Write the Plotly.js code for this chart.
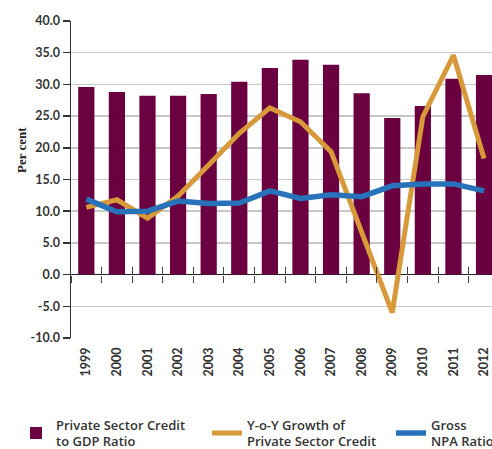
<!DOCTYPE html>
<html><head><meta charset="utf-8">
<script src="https://cdn.plot.ly/plotly-3.0.1.min.js"></script>
<style>html,body{margin:0;padding:0;background:#fff}#chart{width:492px;height:449px}</style>
</head><body><div id="chart"></div>
<script>
const years = ['1999','2000','2001','2002','2003','2004','2005','2006','2007','2008','2009','2010','2011','2012'];
const creditToGDP = [29.6,28.8,28.2,28.2,28.5,30.4,32.6,33.9,33.1,28.6,24.7,26.6,30.9,31.5];
const creditGrowth = [10.6,11.8,8.9,12.4,17.3,22.3,26.3,24.1,19.4,6.6,-6.0,24.9,34.6,18.3];
const grossNPA = [11.9,9.9,10.0,11.6,11.2,11.3,13.2,12.0,12.6,12.3,14.0,14.3,14.3,13.2];
const seriesNames = ['Private Sector Credit<br>to GDP Ratio','Y-o-Y Growth of<br>Private Sector Credit','Gross<br>NPA Ratio'];
const yTicks = [-10,-5,0,5,10,15,20,25,30,35,40];
const yRange = [-10, 40];
const yTitle = 'Per cent';

const labelFont = {family:'Lato, "Open Sans", sans-serif', size:12.5, color:'#333', weight:'bold'};
const legendFont = {family:'"Open Sans", Lato, sans-serif', size:13, color:'#333', weight:600};
const xRange = [-0.5, 13.26];
const zeroPos = (0 - yRange[0]) / (yRange[1] - yRange[0]);

const data = [
  {type:'bar', x:years, y:creditToGDP, name:seriesNames[0], marker:{color:'#6a0040'}, legend:'legend'},
  {type:'scatter', mode:'lines', x:years, y:creditGrowth, name:seriesNames[1], xaxis:'x2',
    line:{color:'#d8993a', width:5}, legend:'legend2'},
  {type:'scatter', mode:'lines', x:years, y:grossNPA, name:seriesNames[2], xaxis:'x3',
    line:{color:'#2872ba', width:5.5}, legend:'legend3'}
];

const tickAxis = (dir, len) => ({overlaying:'x', anchor:'free', position:zeroPos, type:'category',
  categoryarray:years, range:xRange, tickson:'boundaries', ticks:dir, ticklen:len, tickwidth:1,
  tickcolor:'#444', showticklabels:false, showgrid:false, zeroline:false, showline:false, fixedrange:true});

const legendBase = (x) => ({orientation:'h', xref:'container', yref:'container', x:x/492, xanchor:'left',
  y:1-433/449, yanchor:'middle', font:legendFont, valign:'middle', bgcolor:'rgba(0,0,0,0)'});

const layout = {
  width:492, height:449,
  margin:{l:71, r:0, t:21, b:111},
  paper_bgcolor:'#fff', plot_bgcolor:'#fff',
  bargap:0.47,
  showlegend:true,
  xaxis:{type:'category', range:xRange, showgrid:false, zeroline:false, showline:false, ticks:'',
    tickangle:-90, tickfont:labelFont, ticklabelstandoff:6, fixedrange:true},
  xaxis2: tickAxis('outside', 7),
  xaxis3: tickAxis('inside', 8),
  yaxis:{range:yRange, tickvals:yTicks, ticktext:yTicks.map(v => v.toFixed(1)),
    showline:true, linecolor:'#333', linewidth:1.5,
    ticks:'outside', ticklen:7, tickcolor:'#333', tickwidth:1.5, tickfont:labelFont,
    showgrid:true, gridcolor:'#c8c8c8', gridwidth:1.5,
    zeroline:true, zerolinecolor:'#222', zerolinewidth:1.5, fixedrange:true},
  legend: legendBase(16),
  legend2: legendBase(207),
  legend3: legendBase(391),
  annotations:[{text:yTitle, textangle:-90, xref:'paper', yref:'paper', x:(21-71)/421, y:(338-150)/317,
    showarrow:false, xanchor:'center', yanchor:'middle',
    font:{family:'"Liberation Serif", serif', size:13, color:'#222', weight:'bold'}}]
};

Plotly.newPlot('chart', data, layout, {staticPlot:true, displayModeBar:false});
</script>
</body></html>
